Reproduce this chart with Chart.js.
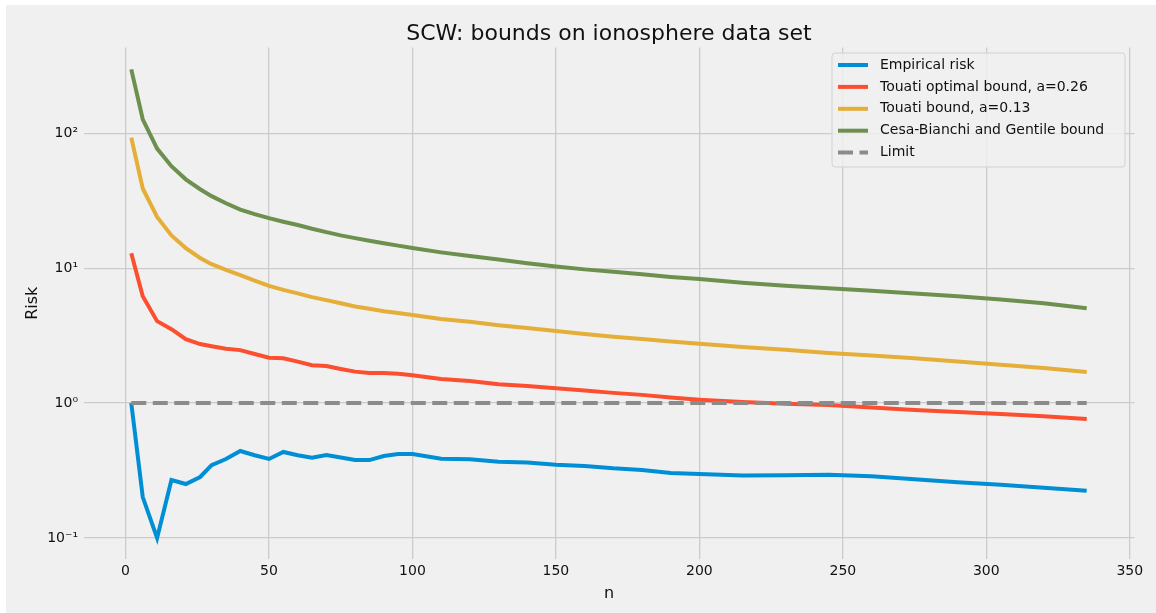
<!DOCTYPE html>
<html>
<head>
<meta charset="utf-8">
<script src="https://cdn.jsdelivr.net/npm/chart.js@4.4.1/dist/chart.umd.min.js"></script>
<style>
    html, body {margin: 0; padding: 0; background: #ffffff;}
    canvas {display: block;}
</style>
</head>
<body>
<canvas id="chart_bounds" width="1156" height="613"></canvas>
<script>
const nValues = [2, 6, 11, 16, 21, 26, 30, 35, 40, 45, 50, 55, 60, 65, 70, 75, 80, 85, 90, 95,
    100, 110, 120, 130, 140, 150, 160, 170, 180, 190, 200, 215, 230, 245, 260, 275, 290, 305, 320, 335];

const empiricalRisk = [1.0, 0.201, 0.1, 0.269, 0.251, 0.283, 0.347, 0.385, 0.441, 0.41, 0.385, 0.434, 0.41, 0.393, 0.412, 0.395, 0.378, 0.378, 0.405, 0.419,
    0.419, 0.387, 0.383, 0.367, 0.362, 0.349, 0.341, 0.328, 0.319, 0.303, 0.298, 0.290, 0.292, 0.294, 0.287, 0.272, 0.259, 0.248, 0.236, 0.224];

const touatiOptimal = [12.9, 6.2, 4.05, 3.53, 2.98, 2.74, 2.64, 2.53, 2.47, 2.31, 2.17, 2.15, 2.03, 1.91, 1.88, 1.79, 1.71, 1.67, 1.67, 1.65,
    1.61, 1.51, 1.455, 1.38, 1.34, 1.29, 1.24, 1.19, 1.15, 1.10, 1.06, 1.017, 0.99, 0.966, 0.926, 0.887, 0.858, 0.829, 0.80, 0.762];

const touatiBound = [93, 39, 24, 17.5, 14.1, 11.9, 10.7, 9.7, 8.9, 8.1, 7.4, 6.9, 6.5, 6.1, 5.8, 5.5, 5.2, 5.0, 4.8, 4.65,
    4.5, 4.2, 4.0, 3.78, 3.6, 3.42, 3.25, 3.1, 2.98, 2.86, 2.75, 2.6, 2.48, 2.35, 2.25, 2.15, 2.03, 1.92, 1.82, 1.70];

const cesaBianchi = [298, 127, 77, 57, 45.6, 38.5, 34.2, 30.3, 27.2, 25.2, 23.5, 22.1, 20.9, 19.6, 18.5, 17.5, 16.7, 16.0, 15.3, 14.7,
    14.1, 13.1, 12.3, 11.6, 10.9, 10.3, 9.8, 9.4, 9.0, 8.6, 8.3, 7.8, 7.4, 7.1, 6.8, 6.5, 6.2, 5.85, 5.5, 5.05];

const limitX = [2, 335];
const limitY = [1, 1];

const xTicks = [0, 50, 100, 150, 200, 250, 300, 350];
const yTicks = [0.1, 1, 10, 100];
const yTickLabels = ['10⁻¹', '10⁰', '10¹', '10²'];

const chartTitle = 'SCW: bounds on ionosphere data set';

const FONT = 'DejaVu Sans';
const TEXT = '#111111';
const GRID = '#cbcbcb';

function points(xs, ys) {
    return xs.map((x, i) => ({x: x, y: ys[i]}));
}

const figureBackground = {
    id: 'figureBackground',
    beforeDraw(chart) {
        const ctx = chart.ctx;
        ctx.save();
        ctx.fillStyle = '#ffffff';
        ctx.fillRect(0, 0, chart.width, chart.height);
        ctx.fillStyle = '#f0f0f0';
        ctx.fillRect(6, 5, chart.width - 6, chart.height - 5);
        ctx.restore();
    },
};

// title centred over the plot area, legend box inside the plot (top right)
const plotDecor = {
    id: 'plotDecor',
    afterDraw(chart) {
        const ctx = chart.ctx;
        const area = chart.chartArea;
        ctx.save();
        ctx.font = '22px "' + FONT + '"';
        ctx.fillStyle = TEXT;
        ctx.textAlign = 'center';
        ctx.textBaseline = 'alphabetic';
        ctx.fillText(chartTitle, (area.left + area.right) / 2, 40);

        const x = 832, y = 53, w = 293, h = 114;
        ctx.beginPath();
        ctx.roundRect(x, y, w, h, 3);
        ctx.fillStyle = 'rgba(240, 240, 240, 0.8)';
        ctx.fill();
        ctx.strokeStyle = '#d2d2d2';
        ctx.lineWidth = 1;
        ctx.stroke();

        ctx.font = '14px "' + FONT + '"';
        ctx.textAlign = 'left';
        ctx.textBaseline = 'middle';
        chart.data.datasets.forEach((ds, i) => {
            const rowY = 65 + i * 21.9;
            ctx.beginPath();
            ctx.setLineDash(ds.borderDash || []);
            ctx.strokeStyle = ds.borderColor;
            ctx.lineWidth = 4;
            ctx.moveTo(838, rowY);
            ctx.lineTo(868, rowY);
            ctx.stroke();
            ctx.setLineDash([]);
            ctx.fillStyle = TEXT;
            ctx.fillText(ds.label, 880, rowY);
        });
        ctx.restore();
    },
};

new Chart(document.getElementById('chart_bounds'), {
    type   : 'line',
    data   : {
        datasets: [
            {label: 'Empirical risk', data: points(nValues, empiricalRisk), borderColor: '#008fd5', order: 5},
            {label: 'Touati optimal bound, a=0.26', data: points(nValues, touatiOptimal), borderColor: '#fc4f30', order: 4},
            {label: 'Touati bound, a=0.13', data: points(nValues, touatiBound), borderColor: '#e5ae38', order: 3},
            {label: 'Cesa-Bianchi and Gentile bound', data: points(nValues, cesaBianchi), borderColor: '#6d904f', order: 2},
            {label: 'Limit', data: points(limitX, limitY), borderColor: '#8b8b8b', borderDash: [15, 6.5], order: 1},
        ],
    },
    options: {
        responsive: false,
        animation : false,
        devicePixelRatio: 1,
        elements  : {
            line : {borderWidth: 4, tension: 0, fill: false},
            point: {radius: 0},
        },
        layout    : {padding: {left: 0, right: 21.5, top: 47.4, bottom: 0}},
        plugins   : {
            legend : {display: false},
            tooltip: {enabled: false},
            title  : {display: false},
        },
        scales    : {
            x: {
                type : 'linear',
                min  : -14.65,
                max  : 351.65,
                afterBuildTicks: scale => { scale.ticks = xTicks.map(v => ({value: v})); },
                afterFit: scale => { scale.height = 54; },
                grid  : {color: GRID, lineWidth: 1.3, drawTicks: false},
                border: {display: false},
                ticks : {color: TEXT, font: {family: FONT, size: 14}, padding: 4.3, maxRotation: 0},
                title : {display: true, text: 'n', color: TEXT, font: {family: FONT, size: 16}, padding: {top: 0, bottom: 10}},
            },
            y: {
                type : 'logarithmic',
                min  : 0.0698,
                max  : 433.5,
                afterBuildTicks: scale => { scale.ticks = yTicks.map(v => ({value: v})); },
                afterFit: scale => { scale.width = 83.5; },
                grid  : {color: GRID, lineWidth: 1.3, drawTicks: false},
                border: {display: false},
                ticks : {
                    color   : TEXT,
                    font    : {family: FONT, size: 14},
                    padding : 5.5,
                    callback: value => yTickLabels[yTicks.indexOf(value)],
                },
                title : {display: true, text: 'Risk', color: TEXT, font: {family: FONT, size: 16}, padding: {top: 23, bottom: 0}},
            },
        },
    },
    plugins: [figureBackground, plotDecor],
});
</script>
</body>
</html>
